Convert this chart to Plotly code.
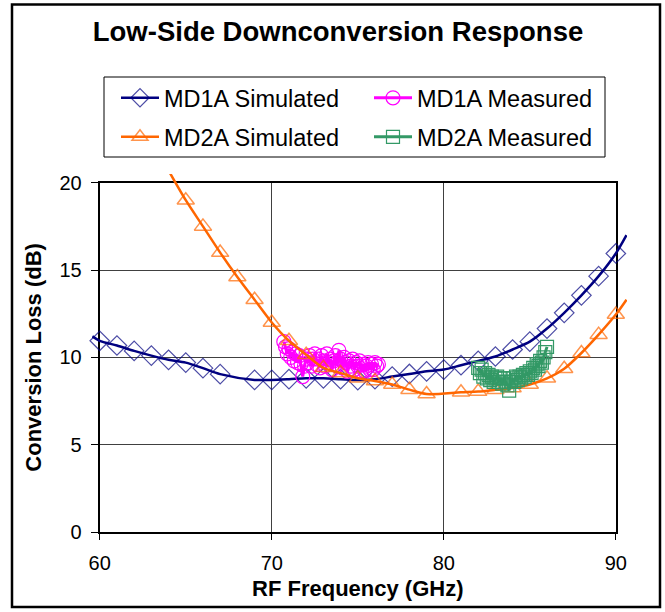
import plotly.graph_objects as go

# ---------------- data ----------------
md1a_sim_freq = [59.57, 60, 61, 62, 63, 64, 65, 66, 67, 69, 70, 71, 72, 73, 74, 75, 76, 77, 78, 79,
                 80, 81, 82, 83, 84, 85, 86, 87, 88, 89, 90, 90.62]
md1a_sim_loss = [11.2, 10.95, 10.68, 10.37, 10.1, 9.86, 9.7, 9.38, 9.04, 8.71, 8.71, 8.75, 8.8, 8.8,
                 8.75, 8.7, 8.75, 8.9, 9.05, 9.2, 9.3, 9.55, 9.8, 10.05, 10.45, 10.9, 11.65, 12.55,
                 13.55, 14.65, 15.95, 17.0]
md1a_sim_marked = [False] + [True] * 30 + [False]

md2a_sim_freq = [64.0, 65, 66, 67, 68, 69, 70, 71, 72, 73, 74, 75, 76, 77, 78, 79,
                 81, 82, 83, 84, 85, 86, 87, 88, 89, 90, 90.62]
md2a_sim_loss = [20.7, 19.0, 17.5, 16.0, 14.6, 13.3, 12.0, 10.95, 10.15, 9.4, 9.1, 8.8, 8.65, 8.45,
                 8.15, 7.9, 8.0, 8.04, 8.14, 8.25, 8.45, 8.8, 9.35, 10.25, 11.3, 12.45, 13.3]
md2a_sim_marked = [False] + [True] * 25 + [False]

md1a_meas_freq = [round(70.7 + 0.1 * i, 1) for i in range(56)]
md1a_meas_loss = [10.9, 10.6, 10.2, 10.5, 10.0, 10.3, 9.8, 10.2, 9.7, 10.1, 9.6, 8.9, 9.5, 9.9,
                  9.7, 10.1, 9.5, 9.9, 10.2, 9.6, 9.9, 9.4, 10.1, 9.8, 9.5, 10.2, 9.7, 9.9, 9.3,
                  9.8, 10.1, 9.5, 10.4, 9.9, 9.4, 10.0, 9.7, 9.2, 9.8, 9.5, 9.9, 9.3, 9.7, 9.5,
                  9.8, 9.2, 9.6, 9.2, 9.5, 9.7, 9.3, 9.6, 9.3, 9.7, 9.5, 9.6]

md2a_meas_freq = [round(82.0 + 0.1 * i, 1) for i in range(41)]
md2a_meas_loss = [9.4, 9.1, 9.3, 8.9, 9.1, 8.8, 9.0, 8.7, 8.9, 8.6, 8.8, 8.9, 8.6, 8.8, 8.5, 8.8,
                  8.6, 8.4, 8.1, 8.6, 8.8, 8.6, 8.9, 8.7, 8.9, 8.8, 9.0, 8.9, 9.1, 9.0, 9.2, 9.1,
                  9.4, 9.3, 9.6, 9.5, 9.8, 9.7, 10.0, 10.3, 10.6]

x_ticks = [60, 70, 80, 90]
y_ticks = [0, 5, 10, 15, 20]

# ---------------- layout geometry ----------------
W, H = 665, 612
ML, MT = 92, 174
PW, PH = 535, 358
MR, MB = W - ML - PW, H - MT - PH
XD = [59.55, 90.65]   # data-axis range (lets curves run slightly past the frame)
YD = [0, 20.5]

def px(xp):
    return (xp - ML) / PW

def py(yp):
    return (MT + PH - yp) / PH

FONT = "Liberation Sans, Arial, sans-serif"
NAVY, ORANGE, MAGENTA, GREEN = "#000080", "#FF6600", "#FF00FF", "#339966"

fig = go.Figure()

# empty trace for the frame subplot
fig.add_trace(go.Scatter(x=[], y=[], xaxis="x", yaxis="y", showlegend=False, hoverinfo="skip"))

fig.add_trace(go.Scatter(
    x=md1a_sim_freq, y=md1a_sim_loss, xaxis="x2", yaxis="y2", name="MD1A Simulated",
    mode="lines+markers", line=dict(color=NAVY, width=2.5, shape="spline", smoothing=0.8),
    marker=dict(symbol="diamond-open", size=[15 if m else 0 for m in md1a_sim_marked],
                color=NAVY, line=dict(width=1.2, color=NAVY)),
    legend="legend", cliponaxis=False))

fig.add_trace(go.Scatter(
    x=md1a_meas_freq, y=md1a_meas_loss, xaxis="x2", yaxis="y2", name="MD1A Measured",
    mode="lines+markers", line=dict(color=MAGENTA, width=3),
    marker=dict(symbol="circle-open", size=14, color=MAGENTA, line=dict(width=1.2, color=MAGENTA)),
    legend="legend"))

fig.add_trace(go.Scatter(
    x=md2a_sim_freq, y=md2a_sim_loss, xaxis="x2", yaxis="y2", name="MD2A Simulated",
    mode="lines+markers", line=dict(color=ORANGE, width=2.5, shape="spline", smoothing=0.8),
    marker=dict(symbol="triangle-up-open", size=[15 if m else 0 for m in md2a_sim_marked],
                color=ORANGE, line=dict(width=1.5, color=ORANGE)),
    legend="legend2"))

fig.add_trace(go.Scatter(
    x=md2a_meas_freq, y=md2a_meas_loss, xaxis="x2", yaxis="y2", name="MD2A Measured",
    mode="lines+markers", line=dict(color=GREEN, width=3),
    marker=dict(symbol="square-open", size=13, color=GREEN, line=dict(width=1.2, color=GREEN)),
    legend="legend2"))

x0 = (60 - XD[0]) / (XD[1] - XD[0])
x1 = (90 - XD[0]) / (XD[1] - XD[0])
y1 = (20 - YD[0]) / (YD[1] - YD[0])

leg_common = dict(orientation="h", xanchor="left", yanchor="middle",
                  bgcolor="rgba(0,0,0,0)", borderwidth=0, entrywidth=200, entrywidthmode="pixels",
                  itemwidth=38,
                  font=dict(family=FONT, size=23.5, color="black"), traceorder="normal",
                  itemclick=False, itemdoubleclick=False)

fig.update_layout(
    width=W, height=H,
    margin=dict(l=ML, r=MR, t=MT, b=MB, pad=0, autoexpand=False),
    paper_bgcolor="white", plot_bgcolor="rgba(0,0,0,0)",
    font=dict(family=FONT, color="black"),
    hovermode=False,
    title=dict(text="Low-Side Downconversion Response", x=338 / W, xanchor="center",
               y=1 - 31 / H, yanchor="middle", xref="container", yref="container",
               font=dict(family=FONT, size=27.5, color="black", weight="bold")),
    xaxis=dict(domain=[x0, x1], anchor="y", range=[60, 90], tickvals=x_ticks,
               ticks="outside", ticklen=6, tickwidth=1, tickcolor="black",
               showline=True, linewidth=2, linecolor="black", mirror=True,
               showgrid=True, gridcolor="#404040", gridwidth=1, zeroline=False,
               tickfont=dict(family=FONT, size=20, color="black"), ticklabelstandoff=6,
               title=dict(text="RF Frequency (GHz)", standoff=8,
                          font=dict(family=FONT, size=22, color="black", weight="bold"))),
    yaxis=dict(domain=[0, y1], anchor="x", range=[0, 20], tickvals=y_ticks,
               ticks="outside", ticklen=7, tickwidth=1, tickcolor="black",
               showline=True, linewidth=2, linecolor="black", mirror=True,
               showgrid=True, gridcolor="#404040", gridwidth=1, zeroline=False,
               tickfont=dict(family=FONT, size=20, color="black"), ticklabelstandoff=5,
               title=dict(text="Conversion Loss (dB)", standoff=12,
                          font=dict(family=FONT, size=22, color="black", weight="bold"))),
    xaxis2=dict(domain=[0, 1], anchor="y2", range=XD, visible=False),
    yaxis2=dict(domain=[0, 1], anchor="x2", range=YD, visible=False),
    legend=dict(x=px(116), y=py(98), **leg_common),
    legend2=dict(x=px(116), y=py(137), **leg_common),
    shapes=[
        dict(type="rect", xref="paper", yref="paper", x0=px(104), x1=px(605), y0=py(157), y1=py(77),
             line=dict(color="black", width=1), fillcolor="rgba(0,0,0,0)", layer="above"),
        dict(type="rect", xref="paper", yref="paper", x0=px(12), x1=px(660), y0=py(607), y1=py(4.5),
             line=dict(color="black", width=2.5), fillcolor="rgba(0,0,0,0)", layer="above"),
    ],
    showlegend=True,
)

fig.write_html(
    "out.html",
    config={"displayModeBar": False},
    post_script="document.body.style.margin='0px';document.body.style.overflow='hidden';",
)
